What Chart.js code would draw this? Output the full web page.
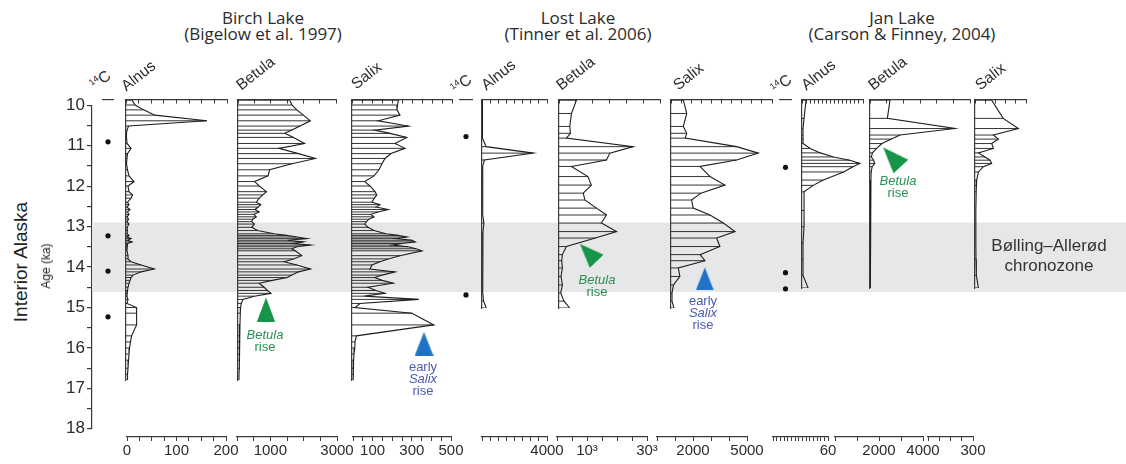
<!DOCTYPE html>
<html>
<head>
<meta charset="utf-8">
<script src="https://cdn.jsdelivr.net/npm/chart.js@4.4.1/dist/chart.umd.min.js"></script>
<style>
body { margin: 0; background: #fff; }
#fig { position: relative; width: 1126px; height: 464px; overflow: hidden; background: #fff;
       font-family: "Liberation Sans", Arial, sans-serif; color: #2b2b2b; }
.box { position: absolute; }
.txt { position: absolute; white-space: nowrap; }
.title { font-family: "Open Sans", sans-serif; font-size: 17px; line-height: 15.5px; text-align: center; transform: translateX(-50%); }
.head { font-size: 15.5px; line-height: 16px; transform-origin: 0 100%; transform: rotate(-38deg); }
.head sup { font-size: 9px; vertical-align: 6px; }
.note { font-size: 13px; line-height: 12px; text-align: center; transform: translateX(-50%); }
.green { color: #2a8f50; }
.blue { color: #4a5ab2; }
</style>
</head>
<body>
<div id="fig"></div>
<script>
// ages (ka) and pollen values, one age list per lake
const birchAges = [9.88, 10.0, 10.12, 10.25, 10.39, 10.52, 10.62, 10.7, 10.8, 10.95,
  11.07, 11.2, 11.32, 11.45, 11.6,
  11.75, 11.89, 12.0, 12.14, 12.22, 12.3, 12.4, 12.46, 12.52, 12.58,
  12.64, 12.7, 12.76, 12.82, 12.88, 12.94, 13.02, 13.1, 13.18, 13.22,
  13.26, 13.3, 13.34, 13.38, 13.42, 13.46, 13.5, 13.55, 13.6, 13.72,
  13.8, 13.87, 13.95, 14.05, 14.12, 14.2, 14.26, 14.33, 14.4, 14.5,
  14.58, 14.65, 14.72, 14.8, 14.9, 15.0, 15.14, 15.43, 15.7, 15.85,
  16.0, 16.15, 16.3, 16.5, 16.65, 16.79];
const birchAlnus = [12, 18, 35, 57, 160, 5, 2, 1, 1, 2,
  10, 3, 2, 1, 3,
  6, 16, 4, 6, 13, 10, 3, 6, 2, 8,
  3, 6, 2, 5, 2, 6, 2, 3, 2, 6,
  2, 10, 3, 12, 3, 2, 2, 2, 2, 4,
  4, 10, 30, 56, 30, 14, 10, 8, 6, 4,
  3, 2, 2, 4, 2, 21, 21, 21, 11, 9,
  7, 6, 5, 4, 3, 3];
const birchBetula = [1580, 1650, 1800, 2000, 2215, 1900, 1650, 1430, 1700, 2040,
  1255, 1850, 2370, 1650, 970,
  920, 510, 650, 870, 760, 650, 560, 700, 620, 520,
  650, 490, 560, 450, 420, 500, 420, 600, 1100, 1480,
  1800, 2110, 1500, 2000, 1700, 2220, 1800, 1650, 1750, 1950,
  1700, 1410, 1800, 2220, 1850, 1650, 1510, 1050, 650, 800,
  900, 1010, 500, 150, 100, 80, 70, 60, 50, 45,
  40, 40, 35, 35, 30, 30];
const birchSalix = [232, 228, 225, 240, 131, 282, 114, 190, 274, 215,
  265, 195, 165, 150, 135,
  110, 64, 90, 115, 124, 112, 100, 140, 120, 181,
  130, 95, 110, 85, 72, 64, 80, 110, 170, 230,
  274, 220, 300, 316, 250, 200, 280, 320, 350, 240,
  181, 140, 100, 90, 215, 150, 114, 150, 206, 80,
  120, 165, 60, 333, 40, 15, 300, 409, 22, 15,
  14, 10, 8, 5, 8, 5];

const lostAges = [9.88, 10.21, 10.53, 10.7, 10.82, 11.03, 11.19, 11.36, 11.52, 11.77,
  11.98, 12.18, 12.35, 12.55, 12.72, 12.92, 13.13, 13.29, 13.5, 13.7,
  13.85, 14.03, 14.24, 14.45, 14.65, 14.85, 15.02];
const lostAlnus = [30, 30, 30, 30, 30, 250, 3160, 150, 40, 40,
  60, 40, 50, 40, 40, 120, 60, 50, 40, 40,
  40, 40, 40, 40, 60, 100, 260];
const lostBetula = [5.2, 3.7, 3.2, 3.4, 2.2, 22.0, 15.1, 14.1, 3.7, 8.6,
  9.6, 7.2, 7.7, 11.1, 14.1, 12.6, 17.1, 10.8, 2.2, 1.0,
  0.8, 1.0, 0.6, 1.0, 0.5, 1.5, 3.2];
const lostSalix = [610, 780, 610, 780, 700, 3250, 4320, 3250, 1440, 1930,
  2670, 1480, 1020, 1100, 1930, 2590, 3170, 2260, 2420, 1440,
  1680, 360, 440, 120, 50, 50, 150];

const janAges = [9.88, 10.33, 10.58, 10.74, 10.84, 10.95, 11.07, 11.18, 11.28, 11.36,
  11.44, 11.52, 11.65, 11.85, 11.98, 12.14, 12.6, 13.0, 13.4, 13.8,
  14.2, 14.51];
const janAlnus = [4, 2, 1, 1, 1, 1, 8, 18, 31, 47,
  57, 50, 41, 21, 11, 2, 2, 2, 1, 1,
  1, 6];
const janBetula = [840, 730, 3570, 1260, 900, 500, 280, 100, 60, 150,
  200, 90, 50, 40, 30, 20, 15, 15, 10, 10,
  10, 10];
const janSalix = [98, 166, 255, 108, 137, 98, 108, 20, 59, 88,
  98, 49, 20, 10, 8, 6, 5, 5, 5, 6,
  8, 20];

// 14C dated levels
const birchDates = [10.91, 13.23, 14.10, 15.23];
const lostDates = [10.78, 14.69];
const janDates = [11.54, 14.14, 14.54];

// Bølling–Allerød chronozone
const bollingAllerod = [12.9, 14.62];

// age axis labels and bottom axis labels
const ageLabels = [10, 11, 12, 13, 14, 15, 16, 17, 18];
const birchAlnusLabels = [0, 100, 200];
const birchBetulaLabels = [1000, 3000];
const birchSalixLabels = [100, 300, 500];
const lostAlnusLabels = [4000];
const lostBetulaLabels = [10, 30];
const lostSalixLabels = [2000, 5000];
const janAlnusLabels = [60];
const janBetulaLabels = [2000, 4000];
const janSalixLabels = [300];

// layout
const PX_KA = 40.5, Y10 = 105, AXIS_Y = 100, BOTTOM_Y = 437;
const AGE_TOP = 10 - (Y10 - AXIS_Y) / PX_KA;
const ink = '#1e1e1e';
const axisInk = '#3a3a3a';
const tickFont = {family: '"Liberation Sans", Arial, sans-serif', size: 15};
const fig = document.getElementById('fig');

function box(left, top, w, h) {
  const d = document.createElement('div');
  d.className = 'box';
  d.style.left = left + 'px';
  d.style.top = top + 'px';
  d.style.width = w + 'px';
  d.style.height = h + 'px';
  const c = document.createElement('canvas');
  d.appendChild(c);
  fig.appendChild(d);
  return c;
}

function text(html, cls, x, y) {
  const d = document.createElement('div');
  d.className = 'txt ' + cls;
  d.style.left = x + 'px';
  d.style.top = y + 'px';
  d.innerHTML = html;
  fig.appendChild(d);
}

function triangle(color, w, h) {
  const c = document.createElement('canvas');
  c.width = w;
  c.height = h;
  const g = c.getContext('2d');
  g.fillStyle = color;
  g.beginPath();
  g.moveTo(w / 2, 0);
  g.lineTo(w, h);
  g.lineTo(0, h);
  g.closePath();
  g.fill();
  return c;
}

function baseOptions(extra) {
  return Object.assign({
    animation: false,
    responsive: true,
    maintainAspectRatio: false,
    events: [],
    plugins: {legend: {display: false}, tooltip: {enabled: false}}
  }, extra);
}

// top value axis, ticks hang down into the panel
function topAxis(max, step, tickColor) {
  return {
    type: 'linear', position: 'top', min: 0, max: max,
    afterFit: s => { s.height = 0; },
    ticks: {display: false, stepSize: step},
    grid: {drawOnChartArea: false, tickLength: -3.5, color: tickColor, lineWidth: 1},
    border: {color: axisInk, width: 1.2}
  };
}

// age axis + chronozone band
const mainCanvas = box(52, Y10 - 12, 1126 - 52, 8 * PX_KA + 24);
new Chart(mainCanvas, {
  type: 'line',
  data: {
    datasets: [
      {data: [{x: 0, y: bollingAllerod[0]}, {x: 1, y: bollingAllerod[0]}], borderWidth: 0, pointRadius: 0},
      {data: [{x: 0, y: bollingAllerod[1]}, {x: 1, y: bollingAllerod[1]}], borderWidth: 0, pointRadius: 0,
       fill: '-1', backgroundColor: '#e6e7e9'}
    ]
  },
  options: baseOptions({
    layout: {autoPadding: false, padding: {top: 12, bottom: 12}},
    scales: {
      x: {type: 'linear', min: 0, max: 1, display: false},
      y: {
        type: 'linear', min: 10, max: 18, reverse: true,
        afterFit: s => { s.width = 40; },
        ticks: {stepSize: 0.5, autoSkip: false, padding: 2, color: '#2b2b2b',
                font: {family: '"Liberation Sans", Arial, sans-serif', size: 17},
                callback: v => ageLabels.includes(v) ? String(v) : ''},
        grid: {drawOnChartArea: false, tickLength: 5, color: axisInk, lineWidth: 1.2},
        border: {color: axisInk, width: 1.2}
      }
    }
  })
});

function panel(p) {
  const bottomAge = p.ages[p.ages.length - 1];
  const h = Math.round(1 + (bottomAge - AGE_TOP) * PX_KA + 2);
  const cv = box(p.x0 - 2, AXIS_Y - 1, p.x1 - p.x0 + 4, h);
  const curve = p.ages.map((a, i) => ({x: p.values[i], y: a}));
  const rungs = [];
  p.ages.forEach((a, i) => {
    rungs.push({x: 0, y: a}, {x: p.values[i], y: a}, {x: null, y: null});
  });
  const datasets = [
    {data: rungs, borderColor: ink, borderWidth: 0.9, pointRadius: 0, spanGaps: false},
    {data: curve, borderColor: ink, borderWidth: 1.1, pointRadius: 0}
  ];
  if (p.marker) {
    datasets.push({
      data: [{x: p.marker.value, y: p.marker.age}], showLine: false, clip: false,
      pointStyle: triangle(p.marker.color, p.marker.w, p.marker.h),
      pointRotation: p.marker.rotation, pointRadius: 12
    });
  }
  new Chart(cv, {
    type: 'line',
    data: {datasets},
    options: baseOptions({
      layout: {autoPadding: false, padding: {left: 2, right: 2, top: 1, bottom: 2}},
      scales: {
        x: topAxis(p.max, p.step, axisInk),
        y: {
          type: 'linear', min: AGE_TOP, max: bottomAge, reverse: true,
          afterFit: s => { s.width = 0; },
          ticks: {display: false},
          grid: {display: false, drawTicks: false},
          border: {color: axisInk, width: 1.2}
        }
      }
    })
  });
}

function dateColumn(x0, x1, dates) {
  const h = Math.round(1 + (18 - AGE_TOP) * PX_KA);
  const cv = box(x0, AXIS_Y - 1, x1 - x0, h);
  const axis = topAxis(1, 1, 'rgba(0,0,0,0)');
  axis.min = -1;
  new Chart(cv, {
    type: 'line',
    data: {datasets: [{
      data: dates.map(a => ({x: 0, y: a})), showLine: false,
      pointRadius: 2.6, pointBackgroundColor: '#111', pointBorderWidth: 0
    }]},
    options: baseOptions({
      layout: {autoPadding: false, padding: {top: 1}},
      scales: {
        x: axis,
        y: {type: 'linear', min: AGE_TOP, max: 18, reverse: true, display: false}
      }
    })
  });
}

function strip(s) {
  const P = 26;
  const cv = box(s.x0 - P, BOTTOM_Y - 16, s.x1 - s.x0 + 2 * P, 40);
  new Chart(cv, {
    type: 'line',
    data: {datasets: []},
    options: baseOptions({
      layout: {autoPadding: false, padding: {left: P, right: P}},
      scales: {
        x: {
          type: 'linear', position: 'bottom', min: 0, max: s.max,
          afterFit: sc => { sc.height = 24; },
          ticks: {stepSize: s.step, autoSkip: false, maxRotation: 0, padding: 1, color: '#2b2b2b', font: tickFont,
                  callback: v => s.labels.includes(v) ? (s.fmt ? s.fmt(v) : String(v)) : ''},
          grid: {drawOnChartArea: false, tickLength: 4, color: axisInk},
          border: {color: axisInk, width: 1.2}
        },
        y: {display: false, min: 0, max: 1}
      }
    })
  });
}

const GREEN = '#169447', BLUE = '#1f72c6';

// Birch Lake
dateColumn(102, 114, birchDates);
panel({x0: 126, x1: 227, ages: birchAges, values: birchAlnus, max: 200, step: 25});
panel({x0: 238, x1: 336, ages: birchAges, values: birchBetula, max: 3000, step: 500,
       marker: {value: 857, age: 15.05, color: GREEN, w: 18, h: 24, rotation: 0}});
panel({x0: 352, x1: 452, ages: birchAges, values: birchSalix, max: 500, step: 50,
       marker: {value: 360, age: 15.9, color: BLUE, w: 19, h: 24, rotation: 0}});
// Lost Lake
dateColumn(459, 473, lostDates);
panel({x0: 482, x1: 547, ages: lostAges, values: lostAlnus, max: 4000, step: 500});
panel({x0: 559, x1: 660, ages: lostAges, values: lostBetula, max: 30, step: 5,
       marker: {value: 8.7, age: 13.65, color: GREEN, w: 19, h: 24, rotation: -44}});
panel({x0: 671, x1: 772, ages: lostAges, values: lostSalix, max: 5000, step: 500,
       marker: {value: 1673, age: 14.3, color: BLUE, w: 18, h: 23, rotation: 0}});
// Jan Lake
dateColumn(779, 792, janDates);
panel({x0: 802, x1: 863, ages: janAges, values: janAlnus, max: 60, step: 4});
panel({x0: 870, x1: 970, ages: janAges, values: janBetula, max: 4200, step: 700,
       marker: {value: 924, age: 11.28, color: GREEN, w: 20, h: 26, rotation: -43}});
panel({x0: 975, x1: 1026, ages: janAges, values: janSalix, max: 300, step: 60});

// bottom value axes
const sup3 = v => v + '\u00b3';
strip({x0: 127, x1: 226, max: 200, step: 25, labels: birchAlnusLabels});
strip({x0: 237, x1: 337, max: 3000, step: 500, labels: birchBetulaLabels});
strip({x0: 353, x1: 451, max: 500, step: 50, labels: birchSalixLabels});
strip({x0: 482, x1: 547, max: 4000, step: 500, labels: lostAlnusLabels});
strip({x0: 557, x1: 647, max: 30, step: 5, labels: lostBetulaLabels, fmt: sup3});
strip({x0: 657, x1: 747, max: 5000, step: 1000, labels: lostSalixLabels});
strip({x0: 773, x1: 828, max: 60, step: 4, labels: janAlnusLabels});
strip({x0: 835, x1: 923, max: 4000, step: 1000, labels: janBetulaLabels});
strip({x0: 928, x1: 973, max: 300, step: 75, labels: janSalixLabels});

// titles
text('Birch Lake<br>(Bigelow et al. 1997)', 'title', 263, 10);
text('Lost Lake<br>(Tinner et al. 2006)', 'title', 578, 10);
text('Jan Lake<br>(Carson &amp; Finney, 2004)', 'title', 902, 10);

// column headers
const heads = [
  ['<sup>14</sup>C', 97, 86], ['Alnus', 128, 91], ['Betula', 243, 90], ['Salix', 358, 89],
  ['<sup>14</sup>C', 458, 90], ['Alnus', 488, 90], ['Betula', 563, 90], ['Salix', 680, 90],
  ['<sup>14</sup>C', 778, 90], ['Alnus', 808, 90], ['Betula', 875, 90], ['Salix', 982, 90]
];
heads.forEach(([t, x, y]) => text(t, 'head', x, y - 13));

// axis titles
const ia = document.createElement('div');
ia.className = 'txt';
ia.style.cssText = 'left:21px;top:262px;font-size:19px;transform:translate(-50%,-50%) rotate(-90deg);color:#222';
ia.textContent = 'Interior Alaska';
fig.appendChild(ia);
const ak = document.createElement('div');
ak.className = 'txt';
ak.style.cssText = 'left:46px;top:266px;font-size:12px;transform:translate(-50%,-50%) rotate(-90deg);color:#222';
ak.textContent = 'Age (ka)';
fig.appendChild(ak);

// chronozone label
const ba = document.createElement('div');
ba.className = 'txt';
ba.style.cssText = 'left:1049px;top:236px;font-size:17px;line-height:20px;text-align:center;transform:translateX(-50%);color:#333';
ba.innerHTML = 'B\u00f8lling\u2013Aller\u00f8d<br>chronozone';
fig.appendChild(ba);

// annotations
text('<i>Betula</i><br>rise', 'note green', 265, 329);
text('early<br><i>Salix</i><br>rise', 'note blue', 423, 361);
text('<i>Betula</i><br>rise', 'note green', 597, 274);
text('early<br><i>Salix</i><br>rise', 'note blue', 703, 295);
text('<i>Betula</i><br>rise', 'note green', 898, 175);
</script>
</body>
</html>
